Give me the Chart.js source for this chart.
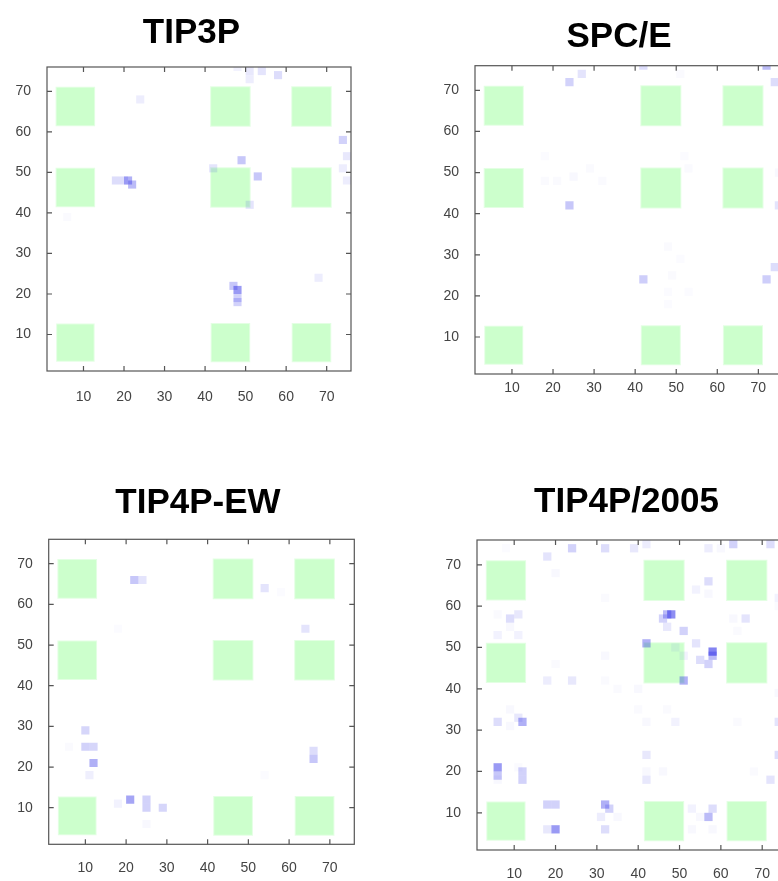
<!DOCTYPE html>
<html><head><meta charset="utf-8">
<script src="https://cdn.jsdelivr.net/npm/chart.js@4.4.0/dist/chart.umd.min.js"></script>
<style>
html,body{margin:0;padding:0;background:#fff;overflow:hidden;width:778px;height:881px;}
canvas{position:absolute;}
</style></head><body>
<canvas id="c1"></canvas><canvas id="c2"></canvas><canvas id="c3"></canvas><canvas id="c4"></canvas>
<script>
// ---- data ----
const titles = ['TIP3P', 'SPC/E', 'TIP4P-EW', 'TIP4P/2005'];
const tickValues = [10, 20, 30, 40, 50, 60, 70];
const axisMin = 1;
const axisMax = 76;
const cellSize = 2;
// green blocks: spans along each axis (data units)
const greenSpans = [[3.5, 12.5], [41.5, 51], [61.5, 71]];

// [x, y, intensity]
const tip3pCells = [
  [48,76,0.06],[51,75,0.1],[51,73,0.08],[54,75,0.12],[58,74,0.15],[24,68,0.08],
  [74,58,0.2],[75,54,0.1],[74,51,0.08],[75,48,0.08],[49,53,0.25],[53,49,0.25],
  [42,51,0.12],[51,42,0.12],[18,48,0.15],[20,48,0.15],[21,48,0.35],[22,47,0.3],
  [6,39,0.04],[68,24,0.08],[47,22,0.25],[48,21,0.45],[48,19,0.2],[48,18,0.2]
];
const spceCells = [
  [24,72,0.2],[27,74,0.12],[42,76,0.15],[51,74,0.04],[72,76,0.3],[74,72,0.15],
  [24,42,0.25],[42,24,0.22],[72,24,0.22],[74,27,0.15],[75,50,0.05],[75,42,0.12],
  [18,54,0.03],[18,48,0.04],[21,48,0.04],[25,49,0.05],[29,51,0.04],[32,48,0.04],
  [53,51,0.04],[52,54,0.03],[48,32,0.04],[51,29,0.03],[49,25,0.04],[48,21,0.03],
  [48,18,0.03],[53,21,0.03]
];
const tip4pewCells = [
  [22,66,0.25],[24,66,0.12],[54,64,0.12],[58,63,0.03],[64,54,0.12],[10,29,0.18],
  [10,25,0.2],[12,25,0.18],[12,21,0.35],[11,18,0.07],[6,25,0.04],[21,12,0.4],
  [25,12,0.2],[25,10,0.2],[29,10,0.18],[18,11,0.06],[25,6,0.05],[66,24,0.15],
  [66,22,0.25],[54,18,0.03],[18,54,0.03]
];
const tip4p2005Cells = [
  [24,74,0.2],[32,74,0.15],[18,72,0.12],[20,68,0.05],[32,62,0.04],[6,58,0.04],
  [9,57,0.15],[11,58,0.1],[9,55,0.05],[6,53,0.06],[11,53,0.06],[32,48,0.05],
  [20,46,0.04],[18,42,0.08],[24,42,0.1],[32,42,0.04],[35,40,0.04],[9,35,0.05],
  [6,32,0.15],[12,32,0.35],[11,33,0.1],[9,31,0.05],[6,21,0.45],[6,19,0.25],
  [12,20,0.2],[12,18,0.2],[6,18,0.05],[11,21,0.04],[18,12,0.2],[20,12,0.2],
  [32,12,0.35],[33,11,0.2],[31,9,0.08],[35,9,0.05],[20,6,0.45],[18,6,0.1],
  [32,6,0.15],[8,74,0.03],
  [39,74,0.1],[42,75,0.08],[57,74,0.08],[63,75,0.2],[72,75,0.15],[60,74,0.05],
  [57,66,0.15],[54,64,0.06],[57,63,0.05],[48,58,0.5],[47,58,0.3],[46,57,0.2],
  [47,55,0.1],[51,54,0.2],[66,57,0.12],[63,57,0.05],[64,54,0.04],[42,51,0.35],
  [54,51,0.12],[58,49,0.55],[58,48,0.3],[55,47,0.15],[57,46,0.2],[49,50,0.06],
  [51,48,0.06],[51,42,0.35],[40,40,0.05],[40,35,0.04],[42,32,0.05],[49,32,0.06],
  [47,35,0.04],[64,32,0.04],[74,32,0.12],[74,39,0.05],[74,24,0.15],[42,24,0.1],
  [42,18,0.1],[42,20,0.05],[46,20,0.05],[72,18,0.12],[68,20,0.04],[74,62,0.06],
  [74,60,0.04],[53,11,0.06],[58,11,0.15],[57,9,0.3],[55,9,0.05],[53,6,0.05],[58,6,0.05]
];

// ---- rendering ----
const FONT = "'Liberation Sans', Arial, Helvetica, sans-serif";

const greenBlocks = [];
greenSpans.forEach(sx => greenSpans.forEach(sy => {
  greenBlocks.push({x: (sx[0] + sx[1]) / 2, y: (sy[0] + sy[1]) / 2, s: ((sx[1] - sx[0]) + (sy[1] - sy[0])) / 2});
}));

function sidePx(chart, units) {
  const sx = chart.scales.x, sy = chart.scales.y;
  const wx = Math.abs(sx.getPixelForValue(units) - sx.getPixelForValue(0));
  const wy = Math.abs(sy.getPixelForValue(units) - sy.getPixelForValue(0));
  return (wx + wy) / 2;
}
// intensity -> opacity (very faint values are rendered softer)
function cellAlpha(v) { return v < 0.06 ? v * 0.6 : v; }

const framePlugin = {
  id: 'frame',
  afterDraw(chart) {
    const {ctx, chartArea: a, scales: {x, y}} = chart;
    ctx.save();
    ctx.strokeStyle = '#555';
    ctx.lineWidth = 1.2;
    ctx.strokeRect(a.left, a.top, a.right - a.left, a.bottom - a.top);
    ctx.beginPath();
    const tl = 5;
    tickValues.forEach(v => {
      const px = x.getPixelForValue(v);
      ctx.moveTo(px, a.bottom); ctx.lineTo(px, a.bottom - tl);
      ctx.moveTo(px, a.top); ctx.lineTo(px, a.top + tl);
      const py = y.getPixelForValue(v);
      ctx.moveTo(a.left, py); ctx.lineTo(a.left + tl, py);
      ctx.moveTo(a.right, py); ctx.lineTo(a.right - tl, py);
    });
    ctx.stroke();
    ctx.restore();
  }
};

// page geometry per panel: canvas left/top, chart area left/right/top/bottom, title centre x
const panels = [
  {id: 'c1', title: titles[0], cells: tip3pCells,     cl: 0,     ct: 0,   h: 420, al: 47,    ar: 351,   at: 67,    ab: 371,   tc: 191.7, tTop: 11.9, xPad: 17.3},
  {id: 'c2', title: titles[1], cells: spceCells,      cl: 428,   ct: 0,   h: 420, al: 475,   ar: 783,   at: 65.7,  ab: 374,   tc: 619,   tTop: 16.4, xPad: 5.9},
  {id: 'c3', title: titles[2], cells: tip4pewCells,   cl: 0,     ct: 450, h: 431, al: 48.7,  ar: 354.3, at: 539.3, ab: 844.3, tc: 198,   tTop: 31.9, xPad: 15.6},
  {id: 'c4', title: titles[3], cells: tip4p2005Cells, cl: 430.3, ct: 450, h: 431, al: 477.3, ar: 787.3, at: 540,   ab: 850,   tc: 627,   tTop: 31.5, xPad: 15.6}
];
const TITLE_SIZE = 35;
const TITLE_LH = TITLE_SIZE * 1.2;

panels.forEach(p => {
  const cv = document.getElementById(p.id);
  const w = Math.round(2 * p.tc - 2 * p.cl);     // title centred on canvas
  const rW = w - (p.ar - p.cl);                   // right spacer box width
  const yW = p.al - p.cl;
  const tBot = (p.at - p.ct) - p.tTop - TITLE_LH;
  const xH = p.h - (p.ab - p.ct);
  cv.style.left = p.cl + 'px';
  cv.style.top = p.ct + 'px';
  cv.width = w;
  cv.height = p.h;
  cv.style.width = w + 'px';
  cv.style.height = p.h + 'px';
  const axisTicks = {font: {family: FONT, size: 14}, color: '#444'};
  new Chart(cv, {
    type: 'scatter',
    data: {
      datasets: [
        {
          data: p.cells.map(c => ({x: c[0], y: c[1], v: c[2]})),
          pointStyle: 'rect',
          pointRadius: ctx => sidePx(ctx.chart, cellSize) / Math.SQRT2,
          pointBackgroundColor: ctx => 'rgba(30,30,230,' + (ctx.raw ? cellAlpha(ctx.raw.v) : 0) + ')',
          pointBorderWidth: 0,
          pointBorderColor: 'rgba(0,0,0,0)',
          clip: 0,
          order: 1
        },
        {
          data: greenBlocks,
          pointStyle: 'rect',
          pointRadius: ctx => ctx.raw ? sidePx(ctx.chart, ctx.raw.s) / Math.SQRT2 : 0,
          pointBackgroundColor: '#ccffcc',
          pointBorderColor: 'rgba(204,255,204,0.55)',
          pointBorderWidth: 2,
          clip: 0,
          order: 2
        }
      ]
    },
    options: {
      responsive: false,
      animation: false,
      devicePixelRatio: 1,
      events: [],
      layout: {padding: 0},
      plugins: {
        legend: {display: false},
        tooltip: {enabled: false},
        title: {
          display: true,
          text: p.title,
          color: '#000',
          font: {family: FONT, size: TITLE_SIZE, weight: 'bold'},
          padding: {top: p.tTop, bottom: tBot}
        }
      },
      scales: {
        x: {
          type: 'linear', min: axisMin, max: axisMax,
          grid: {display: false, drawTicks: false},
          border: {display: false},
          ticks: Object.assign({padding: p.xPad, maxRotation: 0}, axisTicks),
          afterBuildTicks: s => { s.ticks = tickValues.map(v => ({value: v})); },
          afterFit: s => { s.height = xH; }
        },
        y: {
          type: 'linear', min: axisMin, max: axisMax,
          grid: {display: false, drawTicks: false},
          border: {display: false},
          ticks: Object.assign({padding: 16}, axisTicks),
          afterBuildTicks: s => { s.ticks = tickValues.map(v => ({value: v})); },
          afterFit: s => { s.width = yW; }
        },
        y2: {
          type: 'linear', position: 'right', min: axisMin, max: axisMax,
          grid: {display: false, drawTicks: false},
          border: {display: false},
          ticks: {display: false},
          afterFit: s => { s.width = rW; }
        }
      }
    },
    plugins: [framePlugin]
  });
});
</script>
</body></html>
